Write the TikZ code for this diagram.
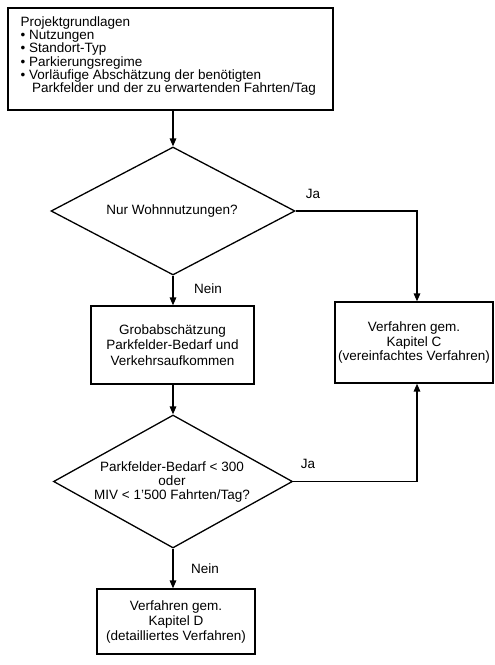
\documentclass[tikz,border=0pt]{standalone}
\usepackage{fontspec}
\setmainfont{Liberation Sans}
\usetikzlibrary{shapes.geometric,arrows.meta}
\begin{document}
\begin{tikzpicture}[x=1pt,y=-1pt,
  every node/.style={font=\fontsize{13.5}{14.6}\selectfont},
  box/.style={draw,line width=1.3pt,rectangle,inner sep=0pt,align=center},
  decision/.style={draw,line width=1.3pt,diamond,inner sep=0pt},
  txt/.style={inner sep=0pt,align=center},
  arr/.style={line width=1.6pt,-{Triangle[length=8pt,width=6.5pt]}},
  lbl/.style={inner sep=0pt}]
\useasboundingbox (0,0) rectangle (495,665);
\node[box,minimum width=325pt,minimum height=102pt] (top) at (170.5,59) {};
\node[txt,anchor=north west,align=left,font=\fontsize{13.5}{13.2}\selectfont] (toptext) at (20.5,16.5)
 {Projektgrundlagen\\
  \textbullet\ Nutzungen\\
  \textbullet\ Standort-Typ\\
  \textbullet\ Parkierungsregime\\
  \textbullet\ Vorläufige Abschätzung der benötigten\\
  \hspace*{11.5pt}Parkfelder und der zu erwartenden Fahrten/Tag};
\node[decision,minimum width=244pt,minimum height=128pt] (d1) at (173,211) {};
\node[txt] (d1text) at (172,211) {Nur Wohnnutzungen?};
\node[box,minimum width=163pt,minimum height=78pt,font=\fontsize{13.5}{15.5}\selectfont] (grob) at (172.5,345)
 {Grobabschätzung\\Parkfelder-Bedarf und\\Verkehrsaufkommen};
\node[box,minimum width=158pt,minimum height=81pt] (c) at (414,342.5)
 {Verfahren gem.\\Kapitel C\\(vereinfachtes Verfahren)};
\node[decision,minimum width=239pt,minimum height=133pt] (d2) at (173,481.5) {};
\node[txt,font=\fontsize{13.5}{14}\selectfont] (d2text) at (172,482)
 {Parkfelder-Bedarf < 300\\oder\\MIV < 1'500 Fahrten/Tag?};
\node[box,minimum width=158pt,minimum height=65pt,font=\fontsize{13.5}{15}\selectfont] (d) at (176,621.5)
 {Verfahren gem.\\Kapitel D\\(detailliertes Verfahren)};
\coordinate (cin) at (417,0);
\draw[arr] (d1.north |- top.south) -- (d1.north);
\draw[arr] (d1.south) -- (d1.south |- grob.north);
\draw[arr] (d1.east) -| (cin |- c.north);
\draw[arr] (grob.south -| d2.north) -- (d2.north);
\draw[arr] (d2.east) -| (cin |- c.south);
\draw[arr] (d2.south) -- (d2.south |- d.north);
\node[lbl] at (313,194) {Ja};
\node[lbl] at (308,464) {Ja};
\node[lbl] at (208,289) {Nein};
\node[lbl] at (205,569) {Nein};
\end{tikzpicture}
\end{document}
